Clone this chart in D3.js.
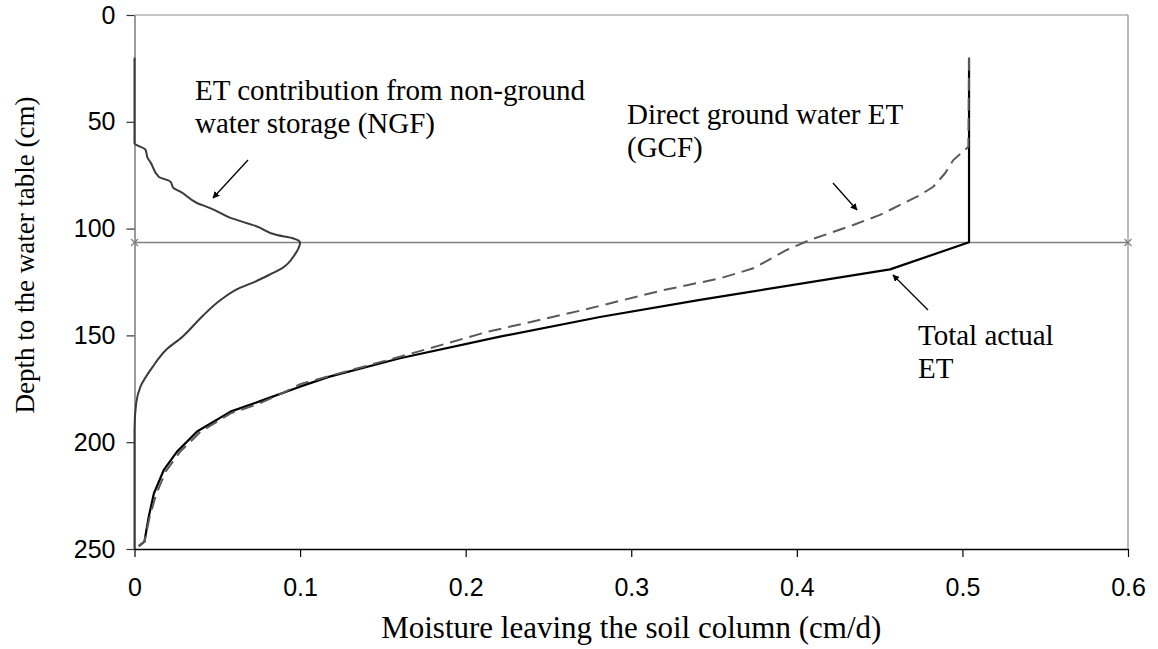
<!DOCTYPE html>
<html>
<head>
<meta charset="utf-8">
<script src="https://cdn.jsdelivr.net/npm/d3@7"></script>
<style>
  html, body { margin: 0; padding: 0; background: #fff; }
  svg { display: block; }
  .tick text { font-family: "Liberation Sans", Arial, sans-serif; font-size: 25px; fill: #000; }
  .note { font-family: "Liberation Serif", "Times New Roman", serif; font-size: 29px; fill: #000; }
  .title { font-family: "Liberation Serif", "Times New Roman", serif; font-size: 31px; fill: #000; }
</style>
</head>
<body>
<div id="chart"></div>
<script>
// x values (cm/d) and depths (cm)
var ngfX     = [0, 0, 0.0066, 0.008, 0.0097, 0.0146, 0.0217, 0.0235, 0.0277, 0.0377, 0.046, 0.058, 0.074, 0.086, 0.096, 0.1, 0.0966, 0.089, 0.083, 0.073, 0.063, 0.052, 0.041, 0.029, 0.019, 0.011, 0.0036, 0.001, 0, 0];
var ngfDepth = [20, 60, 63, 67, 69, 75.7, 78, 81, 82.7, 88, 90.5, 95, 99, 103, 104.6, 106.5, 112.4, 118.6, 121, 124.8, 128, 133.4, 141, 150.6, 156.8, 164.7, 174, 181.8, 194, 250];

var gcfX     = [0.504, 0.5036, 0.4945, 0.4895, 0.4824, 0.4744, 0.4502, 0.4341, 0.42, 0.408, 0.3939, 0.3737, 0.3536, 0.3194, 0.271, 0.2127, 0.1603, 0.1201, 0.1, 0.09, 0.075, 0.058, 0.04, 0.0275, 0.019, 0.013, 0.009, 0.006, 0.0026];
var gcfDepth = [20, 61.7, 67.9, 74.1, 80.4, 84.3, 93.6, 98.3, 102.1, 105.3, 110, 118.6, 123.3, 128.8, 138.1, 148.4, 160, 168.5, 172.8, 176.8, 182, 186.5, 195, 204.5, 213.5, 224.5, 235.5, 246.6, 248.6];

var totalX     = [0.504, 0.504, 0.4563, 0.3415, 0.2811, 0.2207, 0.1603, 0.1178, 0.0999, 0.078, 0.058, 0.0378, 0.0257, 0.0177, 0.0117, 0.0086, 0.006, 0.0026];
var totalDepth = [20, 106.4, 119.1, 133.4, 141.4, 150.6, 160.7, 169.3, 174, 180.2, 185.7, 195, 204.4, 213, 224, 234.9, 246.6, 248.6];

var waterTableDepth = 106.5;
var waterTableX = [0, 0.6];

var xTicks = [0, 0.1, 0.2, 0.3, 0.4, 0.5, 0.6];
var xTickLabels = ["0", "0.1", "0.2", "0.3", "0.4", "0.5", "0.6"];
var yTicks = [0, 50, 100, 150, 200, 250];
var yTickLabels = ["0", "50", "100", "150", "200", "250"];

var W = 1158, H = 649;
var plotL = 134.5, plotR = 1128, plotT = 15, plotB = 549;

var svg = d3.select("#chart").append("svg")
    .attr("width", W).attr("height", H);

var x = d3.scaleLinear().domain([0, 0.6]).range([plotL, plotR]);
var y = d3.scaleLinear().domain([0, 250]).range([plotT, plotB]);

var defs = svg.append("defs");
defs.append("marker")
    .attr("id", "arrow")
    .attr("viewBox", "0 0 10 10")
    .attr("refX", 9).attr("refY", 5)
    .attr("markerWidth", 7).attr("markerHeight", 7)
    .attr("markerUnits", "userSpaceOnUse")
    .attr("orient", "auto")
    .append("path")
    .attr("d", "M0,0 L10,5 L0,10 Z")
    .attr("fill", "#000");

// plot border (top and right)
svg.append("line").attr("x1", plotL).attr("x2", plotR).attr("y1", plotT).attr("y2", plotT)
    .attr("stroke", "#8c8c8c").attr("stroke-width", 1.2);
svg.append("line").attr("x1", plotR).attr("x2", plotR).attr("y1", plotT).attr("y2", plotB)
    .attr("stroke", "#8c8c8c").attr("stroke-width", 1.2);

// axes
var yAxis = d3.axisLeft(y)
    .tickValues(yTicks)
    .tickFormat(function (d, i) { return yTickLabels[i]; })
    .tickSize(8).tickSizeOuter(0).tickPadding(11);
var gy = svg.append("g").attr("transform", "translate(" + plotL + ",0)").call(yAxis);
gy.select(".domain").attr("stroke", "#7a7a7a").attr("stroke-width", 1.5);
gy.selectAll(".tick line").attr("stroke", "#333").attr("stroke-width", 1.2);

var xAxis = d3.axisBottom(x)
    .tickValues(xTicks)
    .tickFormat(function (d, i) { return xTickLabels[i]; })
    .tickSize(8).tickSizeOuter(0).tickPadding(21);
var gx = svg.append("g").attr("transform", "translate(0," + plotB + ")").call(xAxis);
gx.select(".domain").attr("stroke", "#000").attr("stroke-width", 1.5);
gx.selectAll(".tick line").attr("stroke", "#000").attr("stroke-width", 1.2);

// water table line with x markers
svg.append("line")
    .attr("x1", x(waterTableX[0])).attr("x2", x(waterTableX[1]))
    .attr("y1", y(waterTableDepth)).attr("y2", y(waterTableDepth))
    .attr("stroke", "#808080").attr("stroke-width", 1.5);
waterTableX.forEach(function (v) {
    var cx = x(v), cy = y(waterTableDepth), s = 3.5;
    svg.append("path")
        .attr("d", "M" + (cx - s) + "," + (cy - s) + "L" + (cx + s) + "," + (cy + s) +
                   "M" + (cx - s) + "," + (cy + s) + "L" + (cx + s) + "," + (cy - s))
        .attr("stroke", "#808080").attr("stroke-width", 1.2);
});

var line = d3.line()
    .x(function (d) { return x(d[0]); })
    .y(function (d) { return y(d[1]); });
var smoothLine = d3.line()
    .curve(d3.curveMonotoneY)
    .x(function (d) { return x(d[0]); })
    .y(function (d) { return y(d[1]); });

svg.append("path")
    .datum(d3.zip(ngfX, ngfDepth))
    .attr("d", smoothLine)
    .attr("fill", "none").attr("stroke", "#3a3a3a").attr("stroke-width", 2)
    .attr("stroke-linejoin", "round");

svg.append("path")
    .datum(d3.zip(totalX, totalDepth))
    .attr("d", line)
    .attr("fill", "none").attr("stroke", "#000").attr("stroke-width", 2.2)
    .attr("stroke-linejoin", "round");

svg.append("path")
    .datum(d3.zip(gcfX, gcfDepth))
    .attr("d", line)
    .attr("fill", "none").attr("stroke", "#5a5a5a").attr("stroke-width", 2)
    .attr("stroke-dasharray", "13,7");

// annotations
var notes = [
    { lines: ["ET contribution from non-ground", "water storage (NGF)"], x: 195, y: 100, arrow: [248, 160, 213, 198] },
    { lines: ["Direct ground water ET", "(GCF)"], x: 627, y: 124, arrow: [833, 183, 857, 210] },
    { lines: ["Total actual", "ET"], x: 918, y: 345, arrow: [928, 310, 893, 275] }
];
notes.forEach(function (n) {
    var t = svg.append("text").attr("class", "note").attr("x", n.x).attr("y", n.y);
    n.lines.forEach(function (s, i) {
        t.append("tspan").attr("x", n.x).attr("dy", i === 0 ? 0 : 33).text(s);
    });
    svg.append("line")
        .attr("x1", n.arrow[0]).attr("y1", n.arrow[1])
        .attr("x2", n.arrow[2]).attr("y2", n.arrow[3])
        .attr("stroke", "#000").attr("stroke-width", 1.3)
        .attr("marker-end", "url(#arrow)");
});

// axis titles
svg.append("text").attr("class", "title")
    .attr("x", (plotL + plotR) / 2).attr("y", 638)
    .attr("text-anchor", "middle")
    .text("Moisture leaving the soil column (cm/d)");

svg.append("text").attr("class", "title")
    .attr("transform", "translate(34,255) rotate(-90)")
    .attr("text-anchor", "middle")
    .style("font-size", "27px")
    .text("Depth to the water table (cm)");
</script>
</body>
</html>
